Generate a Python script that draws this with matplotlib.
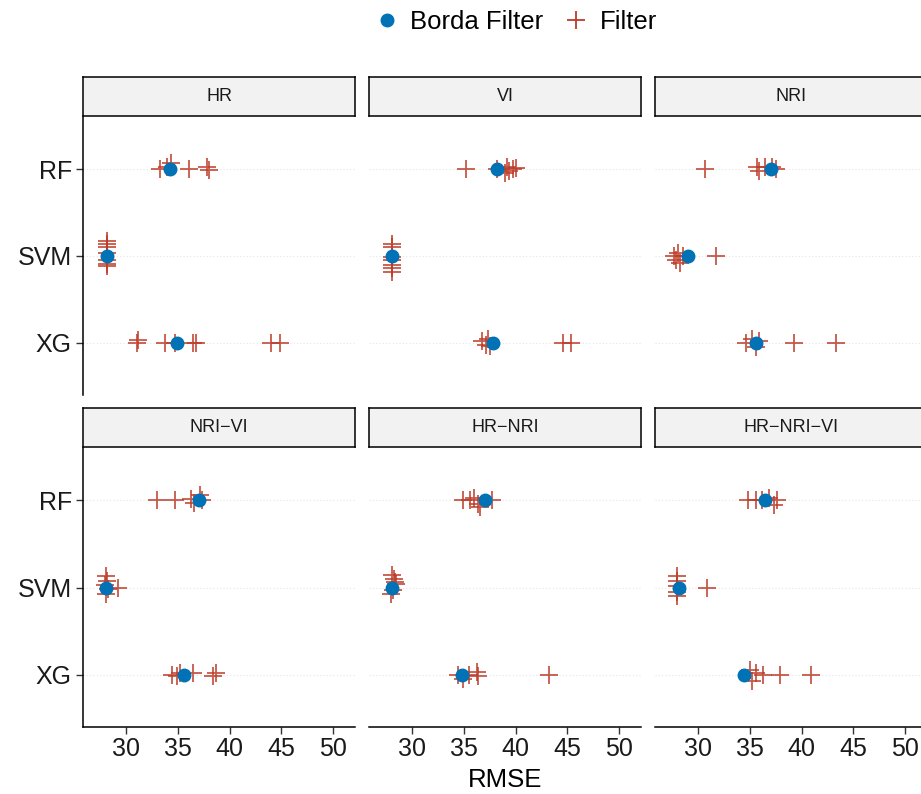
import matplotlib
matplotlib.use("Agg")
import matplotlib.pyplot as plt
from matplotlib.lines import Line2D

plt.rcParams['font.family'] = ['Liberation Sans', 'DejaVu Sans']

panels = ["HR", "VI", "NRI", "NRI\u2212VI", "HR\u2212NRI", "HR\u2212NRI\u2212VI"]
models = ["XG", "SVM", "RF"]  # bottom to top

# Borda Filter RMSE per panel: [XG, SVM, RF]
borda_rmse = [
    [34.9, 28.2, 34.2],
    [37.8, 28.1, 38.2],
    [35.6, 29.0, 37.0],
    [35.6, 28.1, 37.0],
    [34.8, 28.05, 37.0],
    [34.4, 28.2, 36.5],
]

# Filter RMSE per panel, per model [XG, SVM, RF]
filter_rmse = [
    [[31.1, 31.2, 33.8, 34.7, 36.5, 36.8, 44.0, 44.9],
     [28.2, 28.2, 28.2, 28.2, 28.2, 28.2, 28.2],
     [33.3, 34.0, 34.3, 36.1, 37.8, 38.0]],
    [[36.8, 37.1, 37.3, 37.5, 44.6, 45.3],
     [28.1, 28.1, 28.1, 28.1, 28.1, 28.1, 28.1],
     [35.2, 38.2, 39.0, 39.2, 39.4, 39.7, 40.0]],
    [[34.6, 35.2, 35.6, 35.9, 39.3, 43.3],
     [27.7, 27.9, 28.1, 28.3, 28.6, 31.7],
     [30.7, 35.7, 35.9, 36.5, 37.1, 37.5]],
    [[34.4, 34.9, 35.2, 36.5, 38.4, 38.7],
     [28.1, 28.2, 28.0, 28.3, 28.1, 29.2],
     [33.0, 34.7, 36.3, 36.6, 37.1, 37.3]],
    [[34.4, 34.9, 35.5, 36.3, 36.4, 43.2],
     [28.1, 28.3, 28.5, 28.2, 28.0, 28.4],
     [34.95, 35.6, 36.0, 36.4, 36.6, 37.7]],
    [[35.0, 35.2, 35.6, 36.3, 37.9, 40.9],
     [28.0, 28.0, 28.0, 28.0, 28.0, 30.9],
     [34.85, 35.6, 36.2, 36.9, 37.3, 37.6]],
]

# vertical jitter of the Filter points (category units)
filter_jitter = [
    [[0.0, 0.03, 0.0, 0.0, 0.0, 0.0, 0.0, 0.0],
     [0.17, 0.14, 0.10, 0.04, -0.05, -0.09, -0.12],
     [0.0, 0.02, 0.07, 0.0, 0.03, -0.01]],
    [[0.02, -0.03, 0.05, -0.04, 0.0, 0.0],
     [0.14, 0.10, -0.01, -0.05, -0.10, -0.14, -0.18],
     [0.0, 0.0, -0.05, 0.03, -0.02, 0.0, 0.01]],
    [[0.0, 0.04, -0.05, 0.02, 0.0, 0.0],
     [0.0, -0.05, 0.03, -0.08, 0.0, 0.0],
     [0.0, 0.03, -0.02, 0.02, 0.03, 0.0]],
    [[0.0, -0.02, 0.02, 0.02, -0.02, 0.02],
     [0.13, 0.08, 0.03, -0.02, -0.08, 0.0],
     [0.0, 0.0, 0.02, -0.03, 0.06, 0.0]],
    [[0.0, -0.05, 0.0, 0.03, -0.02, 0.0],
     [0.14, 0.10, 0.04, -0.03, -0.08, 0.06],
     [0.0, 0.0, 0.03, -0.04, -0.08, 0.0]],
    [[0.05, -0.07, 0.02, 0.0, 0.0, 0.0],
     [0.13, 0.08, 0.02, -0.05, -0.10, 0.0],
     [0.0, 0.0, 0.0, 0.03, -0.05, 0.0]],
]

x_ticks = [30, 35, 40, 45, 50]

BLUE = "#0072B5"
RED = "#BC3C29"
W, H = 921, 794

fig = plt.figure(figsize=(W / 100, H / 100), dpi=100)

col_x = [83, 369, 655]
pw = 272
rows = [(117, 395, 77), (448, 727, 408)]  # panel top, panel bottom, strip top

for i, name in enumerate(panels):
    r, c = divmod(i, 3)
    top, bot, stop = rows[r]
    ax = fig.add_axes([col_x[c] / W, 1 - bot / H, pw / W, (bot - top) / H])
    for m in range(3):
        ys = [m + 1 + j for j in filter_jitter[i][m]]
        ax.plot(filter_rmse[i][m], ys, linestyle="none", marker="+",
                markersize=13, mew=1.3, color=RED, alpha=0.85, zorder=3)
    ax.plot(borda_rmse[i], [1, 2, 3], linestyle="none", marker="o",
            markersize=9, color=BLUE, zorder=4)
    ax.set_xlim(25.85, 52.1)
    ax.set_ylim(0.4, 3.6)
    for yv in [1, 2, 3]:
        ax.axhline(yv, color="#E5E5E5", lw=0.8, ls=(0, (1, 2)), zorder=1)
    for s in ["top", "right"]:
        ax.spines[s].set_visible(False)
    ax.spines["left"].set_visible(c == 0)
    ax.spines["bottom"].set_visible(r == 1)
    ax.spines["left"].set_linewidth(1.1)
    ax.spines["bottom"].set_linewidth(1.1)
    ax.set_xticks(x_ticks)
    ax.set_yticks([1, 2, 3])
    ax.tick_params(axis="x", bottom=(r == 1), labelbottom=(r == 1),
                   length=5, width=1, color="#333333", labelsize=18,
                   labelcolor="#1A1A1A", pad=2)
    ax.tick_params(axis="y", left=(c == 0), labelleft=(c == 0),
                   length=5, width=1, color="#333333", labelsize=18,
                   labelcolor="#1A1A1A", pad=3)
    ax.set_yticklabels(models)
    ax.patch.set_alpha(0)
    # strip
    sax = fig.add_axes([col_x[c] / W, 1 - (top - 1) / H, pw / W, (top - 1 - stop) / H])
    sax.set_xticks([])
    sax.set_yticks([])
    sax.set_facecolor("#F2F2F2")
    for s in sax.spines.values():
        s.set_linewidth(1.1)
        s.set_color("black")
    sax.text(0.5, 0.5, name, ha="center", va="center", fontsize=13,
             color="#1A1A1A", transform=sax.transAxes)

fig.text(505 / W, 1 - 780 / H, "RMSE", ha="center", va="center", fontsize=18.5)

handles = [
    Line2D([], [], linestyle="none", marker="o", markersize=9, color=BLUE),
    Line2D([], [], linestyle="none", marker="+", markersize=13, mew=1.3, color=RED),
]
fig.legend(handles, ["Borda Filter", "Filter"], loc="center",
           bbox_to_anchor=(514 / W, 1 - 22 / H), ncol=2, frameon=False,
           fontsize=18.5, handletextpad=0.3, columnspacing=0.7,
           handlelength=1.2)

fig.savefig("out.png", dpi=100)
